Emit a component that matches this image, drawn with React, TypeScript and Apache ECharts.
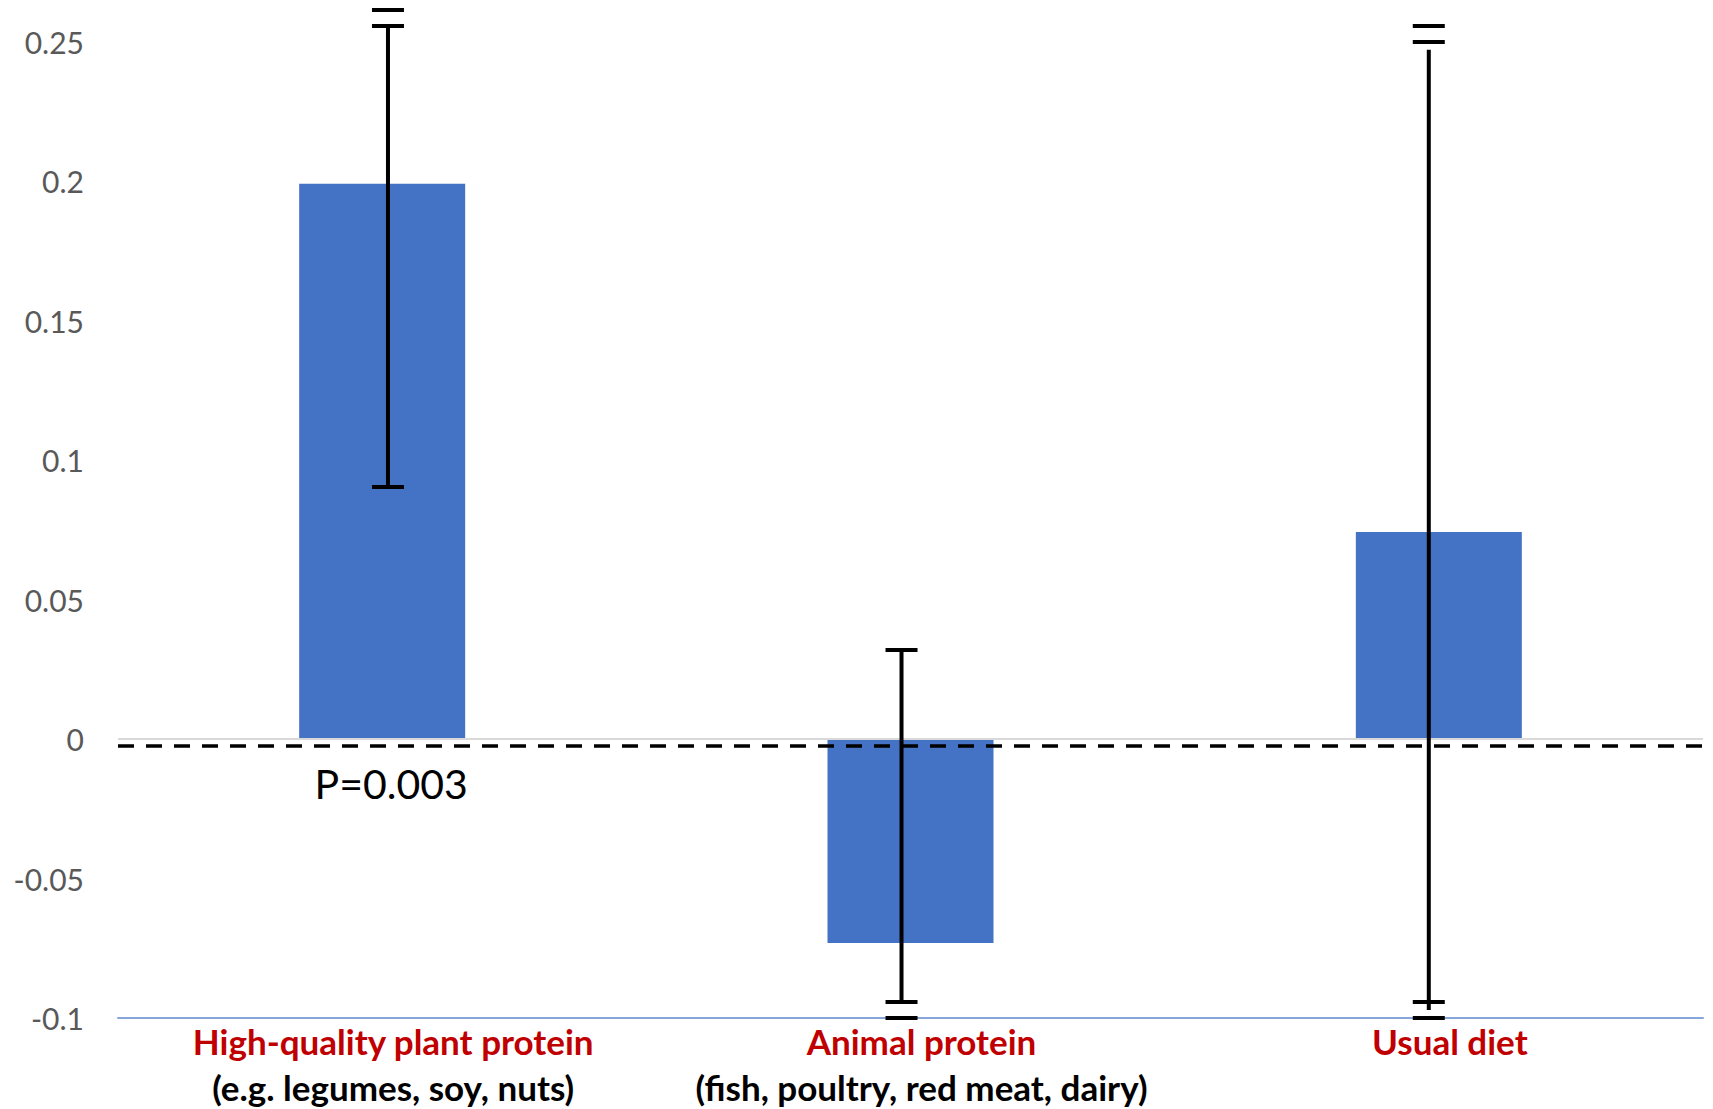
import React, { useEffect, useRef } from 'react';
import * as echarts from 'echarts';

// ---- data ----
const categories = ['High-quality plant protein', 'Animal protein', 'Usual diet'];
const subLabels = ['(e.g. legumes, soy, nuts)', '(fish, poultry, red meat, dairy)', ''];
const meanChange = [0.199, -0.0731, 0.0742];
const errLow = [0.0903, -0.0943, -0.0971];
const errHigh = [0.2556, 0.0319, 0.247];
const errCaps = [
  [0.0903, 0.2556, 0.2613],
  [0.0319, -0.0943, -0.1],
  [0.2498, 0.2556, -0.0943, -0.1],
];
const errShift = [0.011, -0.017, -0.019];
const yMin = -0.1;
const yMax = 0.25;
const yInterval = 0.05;
const referenceLine = -0.0025;
const pValueText = 'P=0.003';
const pValuePoint = [0, -0.0161];
const pValueShift = 0.017;

const FONT = 'Lato, "Open Sans", sans-serif';

export default function App() {
  const ref = useRef<HTMLDivElement>(null);
  useEffect(() => {
    if (!ref.current) return;
    const chart = echarts.init(ref.current, undefined, { renderer: 'svg' });
    chart.setOption({
      animation: false,
      backgroundColor: '#ffffff',
      grid: { left: 118, right: 10, top: 41.5, bottom: 91, containLabel: false },
      xAxis: {
        type: 'category',
        data: categories,
        axisLine: { show: true, onZero: false, lineStyle: { color: '#86A6DC', width: 2 } },
        axisTick: { show: false },
        splitLine: { show: false },
        axisLabel: {
          interval: 0,
          margin: 0,
          padding: [0, 0, 0, 22],
          fontFamily: FONT,
          formatter: (val: string, idx: number) =>
            `{a|${categories[idx]}}` + (subLabels[idx] ? `\n{b|${subLabels[idx]}}` : ''),
          rich: {
            a: { color: '#C00000', fontWeight: 'bold', fontSize: 35, lineHeight: 46, fontFamily: FONT },
            b: { color: '#000000', fontWeight: 'bold', fontSize: 35, lineHeight: 46, fontFamily: FONT },
          },
        },
      },
      yAxis: {
        type: 'value',
        min: yMin,
        max: yMax,
        interval: yInterval,
        axisLine: { show: false },
        axisTick: { show: false },
        splitLine: { show: false },
        axisLabel: {
          color: '#595959',
          fontSize: 30,
          fontFamily: FONT,
          margin: 34,
          formatter: (v: number) => String(Math.round(v * 100) / 100),
        },
      },
      series: [
        {
          type: 'bar',
          data: meanChange,
          barWidth: 166,
          itemStyle: { color: '#4472C4' },
          z: 2,
          markLine: {
            silent: true,
            symbol: 'none',
            precision: 4,
            label: { show: false },
            data: [
              { yAxis: 0, lineStyle: { color: '#D9D9D9', width: 2, type: 'solid' } },
              { yAxis: referenceLine, lineStyle: { color: '#000000', width: 3.5, type: [16, 12] } },
            ],
          },
        },
        {
          type: 'custom',
          z: 5,
          clip: false,
          data: meanChange.map((_, i) => [i, errLow[i], errHigh[i]]),
          encode: { x: 0, y: [1, 2] },
          renderItem: (params: any, api: any) => {
            const i = params.dataIndex;
            const band = api.size([1, 0])[0];
            const c = api.coord([i, 0]);
            const x = c[0] + errShift[i] * band;
            const yLo = api.coord([i, errLow[i]])[1];
            const yHi = api.coord([i, errHigh[i]])[1];
            const st = { stroke: '#000000', lineWidth: 4 };
            const children: any[] = [
              { type: 'line', shape: { x1: x, y1: yLo, x2: x, y2: yHi }, style: st },
            ];
            errCaps[i].forEach((v) => {
              const y = api.coord([i, v])[1];
              children.push({ type: 'line', shape: { x1: x - 16, y1: y, x2: x + 16, y2: y }, style: st });
            });
            return { type: 'group', children };
          },
        },
        {
          type: 'custom',
          z: 6,
          clip: false,
          data: [pValuePoint],
          encode: { x: 0, y: 1 },
          renderItem: (params: any, api: any) => {
            const band = api.size([1, 0])[0];
            const c = api.coord([pValuePoint[0], pValuePoint[1]]);
            return {
              type: 'text',
              x: c[0] + pValueShift * band,
              y: c[1],
              style: {
                text: pValueText,
                fill: '#000000',
                fontSize: 41,
                fontFamily: FONT,
                align: 'center',
                verticalAlign: 'middle',
              },
            };
          },
        },
      ],
    });
    return () => chart.dispose();
  }, []);
  return (
    <div
      ref={ref}
      style={{ position: 'fixed', left: 0, top: 0, width: 1713, height: 1109, background: '#fff' }}
    />
  );
}
